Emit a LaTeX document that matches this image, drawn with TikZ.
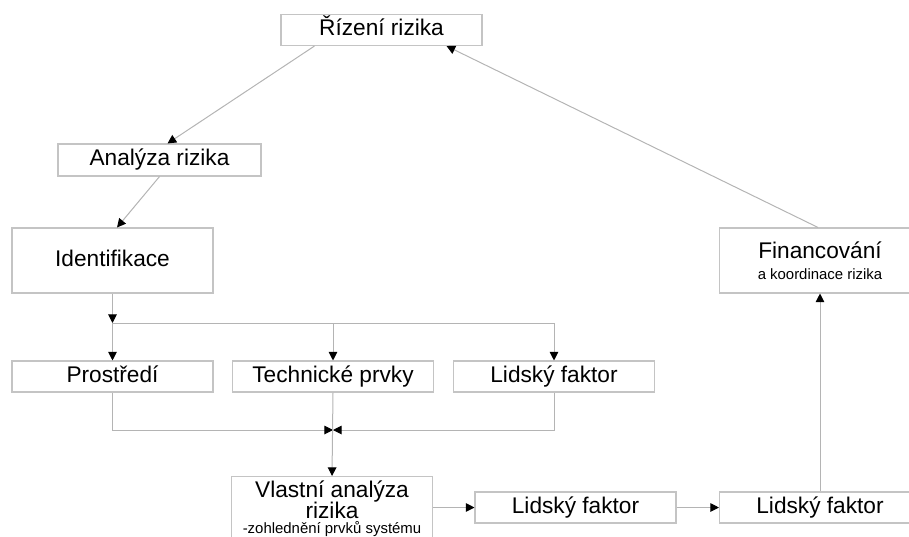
\documentclass[tikz,border=0pt]{standalone}
\usepackage{fontspec}
\setmainfont{Liberation Sans}
\usetikzlibrary{arrows.meta}
\definecolor{boxgray}{HTML}{C4C4C4}
\definecolor{linegray}{HTML}{B4B4B4}
\newcommand{\smalltext}{\fontsize{11.2}{13}\selectfont}
\tikzset{
  box/.style = {draw = boxgray, line width = 0.8pt, minimum width = 150.75pt,
    minimum height = 23.25pt, inner sep = 0pt, align = center,
    font = \fontsize{17}{15.5}\selectfont},
  oneline/.style = {text height = 12.2pt, text depth = 3.6pt},
  arr/.style = {draw = linegray, line width = 0.75pt,
    -{Triangle[length = 6.5pt, width = 6.5pt, color = black]}}
}
\begin{document}
\begin{tikzpicture}[x = 0.75pt, y = -0.75pt]
      \useasboundingbox (0, 0) rectangle (909, 536);
      \node [box, oneline] (riz) at (381.5, 30) {Řízení rizika};
      \node [box, oneline, minimum width = 152.25pt, minimum height = 24pt] (ana) at (159.5, 160) {Analýza rizika};
      \node [box, oneline, minimum height = 48.75pt] (ide) at (112.5, 260.5) {Identifikace};
      \node [box, minimum height = 48.75pt] (fin) at (820, 260.5) {Financování\\{\smalltext a koordinace rizika}};
      \node [box, oneline] (pro) at (112.5, 376.5) {Prostředí};
      \node [box, oneline] (tech) at (333, 376.5) {Technické prvky};
      \node [box, oneline] (lid) at (554, 376.5) {Lidský faktor};
      \node [box, anchor = north, minimum height = 48pt, inner ysep = 1pt] (vla) at (332, 476) {Vlastní analýza\\[-0.5pt]rizika\\[-4.5pt]{\smalltext -zohlednění prvků systému}};
      \node [box, oneline] (lf1) at (575.5, 507.5) {Lidský faktor};
      \node [box, oneline] (lf2) at (820, 507.5) {Lidský faktor};
      \coordinate (split) at (112.5, 323);
      \coordinate (merge) at (333, 430);
      \draw [arr] ([xshift = -1.5pt] fin.north) -- ([xshift = -27pt] riz.south east);
      \draw [arr] ([xshift = 25.5pt] riz.south west) -- ([xshift = 6pt] ana.north);
      \draw [arr] (ana.south) -- ([xshift = 3.4pt] ide.north);
      \draw [arr] (ide.south) -- (split);
      \draw [arr] (split) -- (pro.north);
      \draw [arr] (split) -| (tech.north);
      \draw [arr] (split) -| (lid.north);
      \draw [arr] (pro.south) |- (merge);
      \draw [arr] (lid.south) |- (merge);
      \draw [arr] (tech.south) -- (vla.north);
      \draw [arr] (vla.east |- lf1.west) -- (lf1.west);
      \draw [arr] (lf1.east) -- (lf2.west);
      \draw [arr] (lf2.north) -- (fin.south);
\end{tikzpicture}
\end{document}
